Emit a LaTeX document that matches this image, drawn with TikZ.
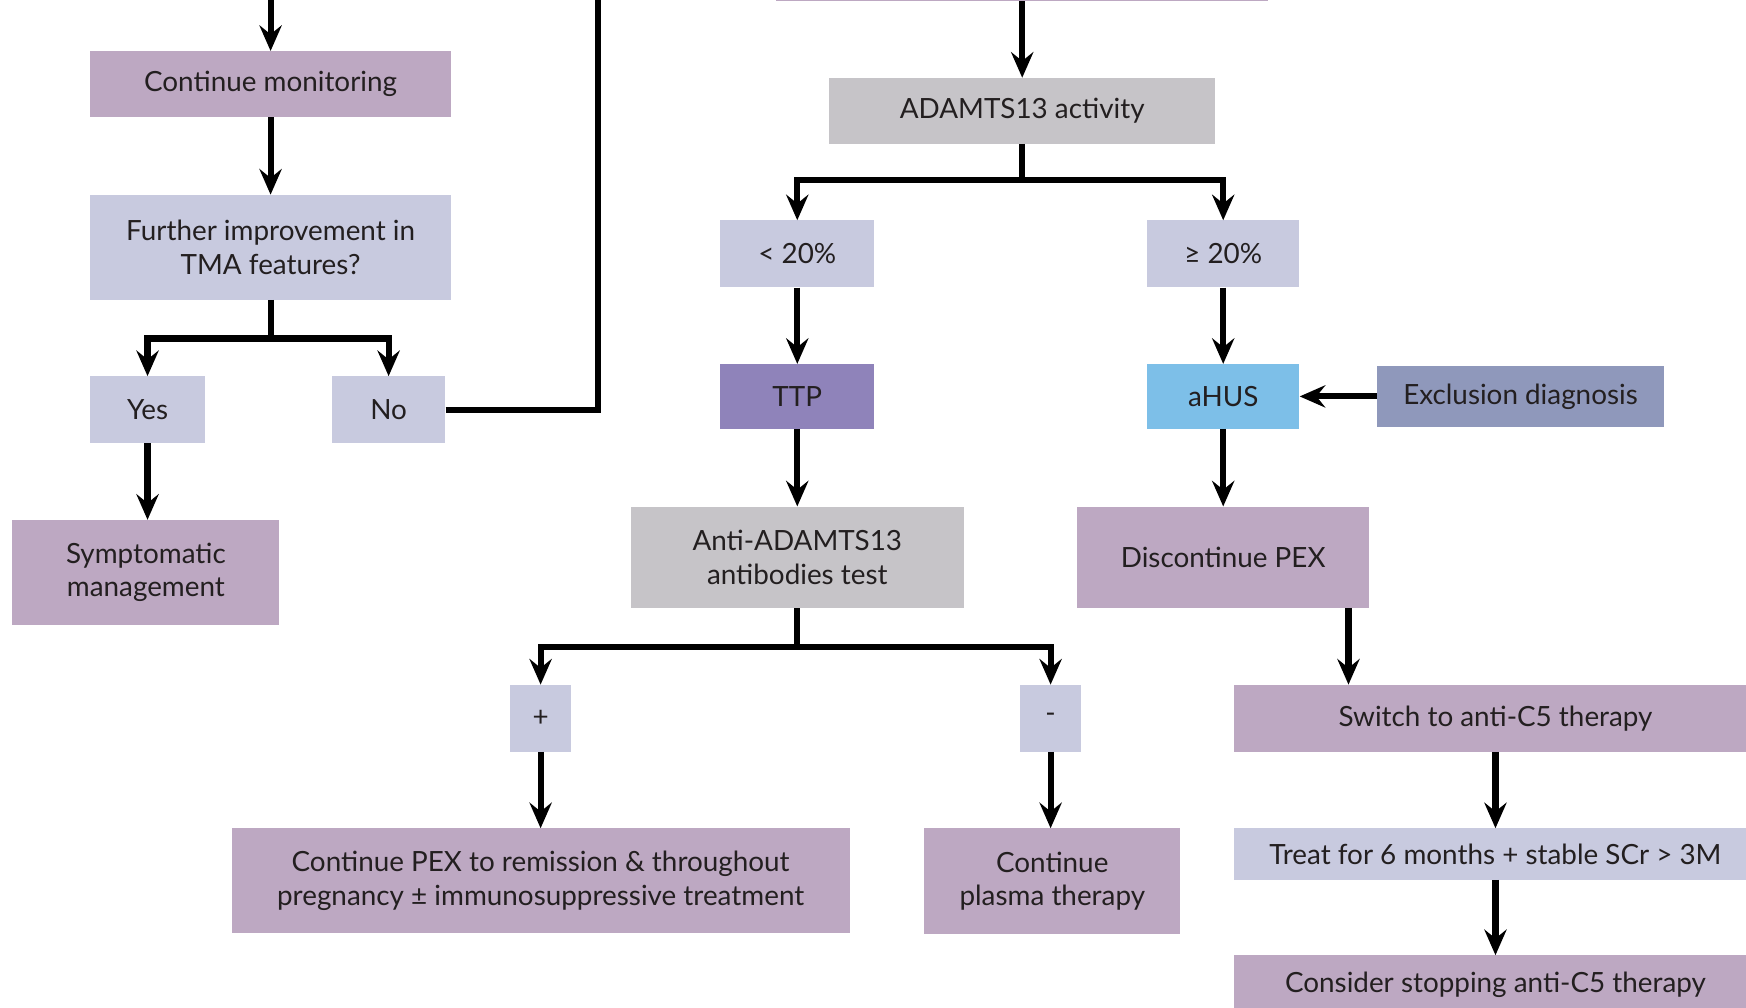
\documentclass[tikz,border=0pt]{standalone}
\usepackage{fontspec}
\setmainfont{Lato}
\usetikzlibrary{arrows.meta}

\definecolor{mauve}{HTML}{BDA8C2}
\definecolor{lilac}{HTML}{C8CADF}
\definecolor{greybox}{HTML}{C6C4C8}
\definecolor{ttpviolet}{HTML}{8F83BA}
\definecolor{ahusblue}{HTML}{7DBFE8}
\definecolor{slate}{HTML}{8F98BB}
\definecolor{txt}{HTML}{231F20}

\tikzset{
  box/.style={rectangle, inner sep=0pt, align=center, text=txt,
              font=\fontsize{25}{30}\selectfont},
  conn/.style={line width=5.5pt, draw=black},
  arr/.style={conn, -{Stealth[length=23pt,width=20pt,inset=8pt]}},
}

\begin{document}
\begin{tikzpicture}[x=1pt,y=-1pt]
\useasboundingbox (0,0) rectangle (1568,905);
\clip (0,0) rectangle (1568,905);

% left branch
\node[box, fill=mauve, minimum width=324pt, minimum height=59pt] (cm) at (243,75.5) {Continue monitoring};
\node[box, fill=lilac, minimum width=324pt, minimum height=94pt] (fi) at (243,222) {Further improvement in\\TMA features?};
\node[box, fill=lilac, minimum width=103pt, minimum height=60pt] (yes) at (132.5,368) {Yes};
\node[box, fill=lilac, minimum width=102pt, minimum height=60pt] (no) at (349,368) {No};
\node[box, fill=mauve, minimum width=240pt, minimum height=94pt] (sym) at (131,514) {Symptomatic\\management};

% centre column
\node[box, fill=mauve, minimum width=442pt, minimum height=42pt] (topbox) at (918,-20) {};
\node[box, fill=greybox, minimum width=347pt, minimum height=59pt] (adam) at (918,99.5) {ADAMTS13 activity};
\node[box, fill=lilac, minimum width=138pt, minimum height=60pt] (lt) at (716,228) {< 20\%};
\node[box, fill=lilac, minimum width=137pt, minimum height=60pt] (ge) at (1098.5,228) {≥ 20\%};
\node[box, fill=ttpviolet, minimum width=138pt, minimum height=58pt] (ttp) at (716,356) {TTP};
\node[box, fill=ahusblue, minimum width=137pt, minimum height=58pt] (ahus) at (1098.5,356) {aHUS};
\node[box, fill=slate, minimum width=257pt, minimum height=55pt] (excl) at (1365.5,356) {Exclusion diagnosis};
\node[box, fill=greybox, minimum width=299pt, minimum height=91pt] (anti) at (716,500.5) {Anti-ADAMTS13\\antibodies test};
\node[box, fill=mauve, minimum width=262pt, minimum height=91pt] (dpex) at (1098.5,500.5) {Discontinue PEX};
\node[box, fill=lilac, minimum width=55pt, minimum height=60pt] (plus) at (485.5,645) {+};
\node[box, fill=lilac, minimum width=55pt, minimum height=60pt] (minus) at (943.5,645) {-};
\node[box, fill=mauve, minimum width=555pt, minimum height=94pt] (cpex) at (485.5,791) {Continue PEX to remission \& throughout\\pregnancy ± immunosuppressive treatment};
\node[box, fill=mauve, minimum width=230pt, minimum height=95pt] (cpl) at (945,791.5) {Continue\\plasma therapy};

% right column
\node[box, fill=mauve, minimum width=470pt, minimum height=60pt] (sw) at (1343,645) {Switch to anti-C5 therapy};
\node[box, fill=lilac, minimum width=470pt, minimum height=46pt] (treat) at (1343,767) {Treat for 6 months + stable SCr > 3M};
\node[box, fill=mauve, minimum width=470pt, minimum height=52pt] (cons) at (1343,884) {Consider stopping anti-C5 therapy};

% junction points and free ends
\coordinate (cmin) at (243,-20);
\coordinate (noup) at (537,-20);
\coordinate (fisplit) at (243,304);
\coordinate (adamsplit) at (918,162);
\coordinate (antisplit) at (716,581);
\coordinate (dpexout) at (1211,546);

% connectors
\draw[arr] (cmin) -- (cm.north);
\draw[arr] (cm.south) -- (fi.north);
\draw[arr] (fi.south) -- (fisplit) -| (yes.north);
\draw[arr] (fisplit) -| (no.north);
\draw[arr] (yes.south) -- (yes.south |- sym.north);
\draw[conn] (no.east) -| (noup);

\draw[arr] (topbox.south) -- (adam.north);
\draw[arr] (adam.south) -- (adamsplit) -| (lt.north);
\draw[arr] (adamsplit) -| (ge.north);
\draw[arr] (lt.south) -- (ttp.north);
\draw[arr] (ge.south) -- (ahus.north);
\draw[arr] (excl.west) -- (ahus.east);
\draw[arr] (ttp.south) -- (anti.north);
\draw[arr] (ahus.south) -- (dpex.north);
\draw[arr] (anti.south) -- (antisplit) -| (plus.north);
\draw[arr] (antisplit) -| (minus.north);
\draw[arr] (plus.south) -- (cpex.north);
\draw[arr] (minus.south) -- (minus.south |- cpl.north);
\draw[arr] (dpexout) -- (dpexout |- sw.north);
\draw[arr] (sw.south) -- (treat.north);
\draw[arr] (treat.south) -- (cons.north);
\end{tikzpicture}
\end{document}
